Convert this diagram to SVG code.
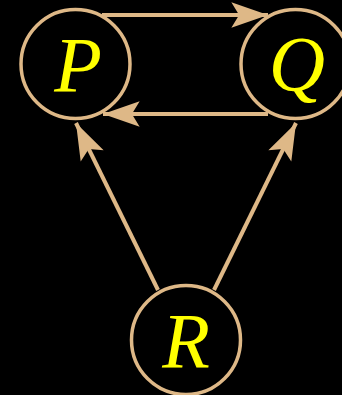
<svg xmlns="http://www.w3.org/2000/svg" width="342" height="395" viewBox="0 0 342 395">
<style>
.n{fill:none;stroke:#DEB887;stroke-width:3.5}
.t{fill:#FFFF00;font-family:"Liberation Serif",serif;font-style:italic;font-size:78px;text-anchor:middle}
.e{stroke:#DEB887;stroke-width:4;fill:none}
</style>
<defs>
<marker id="a" markerUnits="userSpaceOnUse" markerWidth="40" markerHeight="30" viewBox="-34 -13 36 26" refX="0" refY="0" orient="auto">
<path d="M0,0 L-33,-11.5 L-26,0 L-33,11.5 Z" fill="#DEB887"/>
</marker>
</defs>
<rect width="342" height="395" fill="#000"/>
<g id="edges">
<line class="e" x1="102" y1="15" x2="268" y2="15" marker-end="url(#a)"/>
<line class="e" x1="268" y1="114" x2="103" y2="114" marker-end="url(#a)"/>
<line class="e" x1="158" y1="290" x2="76" y2="123" marker-end="url(#a)"/>
<line class="e" x1="214" y1="290" x2="296" y2="123" marker-end="url(#a)"/>
</g>
<g id="P"><circle class="n" cx="75.5" cy="64" r="54.5"/><text class="t" x="78" y="91">P</text></g>
<g id="Q"><circle class="n" cx="295.5" cy="64" r="54.5"/><text class="t" x="297" y="90">Q</text></g>
<g id="R"><circle class="n" cx="186" cy="340" r="54.5"/><text class="t" x="186" y="367">R</text></g>
</svg>
